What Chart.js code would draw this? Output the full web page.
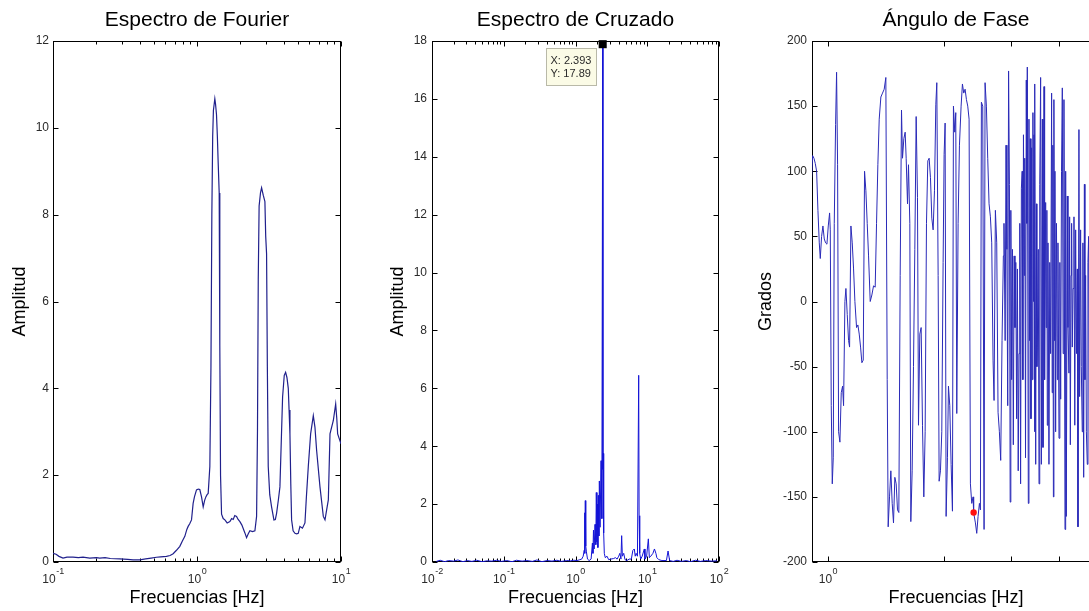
<!DOCTYPE html>
<html>
<head>
<meta charset="utf-8">
<script src="https://cdn.jsdelivr.net/npm/chart.js@4.4.1/dist/chart.umd.min.js"></script>
<style>
  html, body { margin: 0; padding: 0; background: #fff; overflow: hidden; width: 1089px; height: 611px; }
  canvas { position: absolute; top: 0; }
  #fourier { left: 0; }
  #cross { left: 363px; }
  #phase { left: 726px; }
</style>
</head>
<body>
<canvas id="fourier" width="363" height="611"></canvas>
<canvas id="cross" width="380" height="611"></canvas>
<canvas id="phase" width="420" height="611"></canvas>
<script>
const FONT = "'Liberation Sans', Arial, Helvetica, sans-serif";

// Espectro de Fourier: frecuencia [Hz] y amplitud
const fourierFreq = [0.1,0.105,0.11,0.1174,0.125,0.1377,0.15,0.1616,0.18,0.2,
  0.2111,0.23,0.25,0.2907,0.33,0.36,0.4005,0.44,0.48,0.5231,
  0.56,0.6135,0.65,0.683,0.72,0.76,0.79,0.8231,0.85,0.868,
  0.89,0.916,0.94,0.96,0.992,1.02,1.046,1.075,1.104,1.13,
  1.152,1.175,1.196,1.228,1.25,1.268,1.285,1.30,1.33,1.345,
  1.366,1.385,1.403,1.426,1.44,1.457,1.481,1.52,1.562,1.62,
  1.692,1.74,1.784,1.83,1.882,1.93,1.986,2.05,2.151,2.209,
  2.27,2.33,2.43,2.524,2.593,2.63,2.663,2.7,2.76,2.809,
  2.884,2.962,3.0,3.042,3.08,3.124,3.2,3.295,3.421,3.5,
  3.57,3.68,3.766,3.85,3.93,4.036,4.124,4.213,4.304,4.36,
  4.42,4.48,4.539,4.65,4.788,4.92,5.05,5.186,5.4,5.619,
  5.75,5.928,6.153,6.422,6.595,6.773,7.145,7.537,7.742,7.95,
  8.166,8.387,8.846,9.183,9.35,9.48,10.0];
const fourierAmp = [0.2,0.18,0.13,0.09,0.11,0.11,0.1,0.11,0.09,0.1,
  0.09,0.1,0.08,0.07,0.06,0.05,0.05,0.07,0.09,0.11,
  0.12,0.13,0.15,0.19,0.27,0.36,0.48,0.59,0.75,0.82,
  0.88,0.97,1.35,1.5,1.66,1.68,1.67,1.5,1.27,1.42,
  1.5,1.55,1.58,2.2,4.5,8.0,9.8,10.4,10.67,10.55,
  10.3,9.8,9.2,8.5,5.0,2.0,1.1,1.0,0.97,0.9,
  0.93,1.0,0.98,1.07,1.05,0.98,0.93,0.85,0.67,0.56,
  0.65,0.72,0.7,0.72,1.05,3.0,6.5,8.2,8.5,8.62,
  8.45,8.3,7.5,7.1,4.5,2.2,1.55,1.27,0.97,0.98,
  1.12,1.45,1.73,2.8,3.8,4.3,4.37,4.25,4.0,3.5,
  2.95,1.8,0.97,0.72,0.66,0.65,0.66,0.82,0.78,0.9,
  1.5,2.2,2.95,3.37,3.1,2.57,1.73,1.05,0.97,1.2,
  1.43,2.95,3.26,3.64,3.3,2.95,2.72];

// Espectro cruzado: frecuencia [Hz] y amplitud
const crossFreq = [0.0115,0.013,0.015,0.017,0.02,0.023,0.027,0.031,0.036,0.042,
  0.05,0.058,0.068,0.08,0.093,0.11,0.13,0.15,0.18,0.21,
  0.25,0.29,0.34,0.4,0.47,0.55,0.64,0.75,0.85,0.95,
  1.05,1.15,1.22,1.28,1.32,1.34,1.355,1.37,1.39,1.42,
  1.47,1.55,1.65,1.72,1.75,1.78,1.82,1.87,1.92,1.95,
  1.99,2.02,2.05,2.08,2.12,2.15,2.2,2.27,2.33,2.393,
  2.41,2.43,2.47,2.52,2.6,2.75,2.9,3.1,3.4,3.6,
  3.8,4.0,4.15,4.3,4.4,4.5,4.7,4.9,5.2,5.6,
  6.0,6.3,6.6,6.8,7.0,7.3,7.6,7.7,7.85,8.1,
  8.5,9.1,9.3,9.8,10.36,10.7,11.2,12.0,12.6,13.2,
  13.6,14.5,16,18.5,19.5,19.7,20.0,20.5,23,26,
  30,35,40,47,55,65,78,94];
const crossAmp = [0.02,0.06,0.01,0.05,0.03,0.07,0.01,0.05,0.02,0.06,
  0.01,0.04,0.03,0.06,0.02,0.05,0.01,0.06,0.03,0.05,
  0.02,0.07,0.01,0.05,0.03,0.06,0.02,0.05,0.04,0.06,
  0.05,0.08,0.1,0.2,0.4,1.7,0.3,2.12,0.55,0.35,
  0.1,0.05,0.1,0.65,0.3,1.1,0.45,1.3,0.6,2.4,
  0.7,2.0,0.5,2.3,0.9,2.8,1.2,3.5,1.5,17.89,
  3.2,3.75,1.0,0.3,0.15,0.2,0.08,0.1,0.12,0.15,
  0.1,0.2,0.3,0.1,0.91,0.2,0.3,0.08,0.05,0.1,
  0.1,0.4,0.45,0.2,0.3,0.2,6.45,1.6,0.3,0.1,
  0.2,0.45,0.1,0.2,0.8,0.15,0.2,0.3,0.45,0.3,
  0.15,0.08,0.05,0.05,0.38,0.38,0.38,0.05,0.02,0.06,
  0.02,0.05,0.01,0.06,0.02,0.05,0.03,0.04];
// Punto marcado en el espectro cruzado
const crossTipX = 2.393;
const crossTipY = 17.89;

// Ángulo de fase: frecuencia [Hz] y grados
const phaseFreq = [0.9069,0.9124,0.9197,0.9270,0.9345,0.9419,0.9495,0.9552,0.9628,0.9705,
  0.9783,0.9861,0.9940,1.0020,1.0100,1.0141,1.0201,1.0263,1.0324,1.0386,
  1.0469,1.0532,1.0595,1.0659,1.0744,1.0830,1.0917,1.0982,1.1070,1.1137,
  1.1226,1.1316,1.1384,1.1475,1.1567,1.1659,1.1752,1.1870,1.1965,1.2061,
  1.2158,1.2255,1.2353,1.2452,1.2552,1.2652,1.2754,1.2881,1.3010,1.3141,
  1.3272,1.3379,1.3486,1.3594,1.3730,1.3867,1.4006,1.4146,1.4260,1.4345,
  1.4460,1.4576,1.4693,1.4810,1.4929,1.5048,1.5169,1.5290,1.5413,1.5536,
  1.5629,1.5754,1.5880,1.5976,1.6104,1.6200,1.6330,1.6428,1.6560,1.6692,
  1.6826,1.6961,1.7097,1.7199,1.7337,1.7476,1.7616,1.7757,1.7899,1.8042,
  1.8187,1.8333,1.8479,1.8627,1.8776,1.8927,1.9078,1.9193,1.9346,1.9462,
  1.9618,1.9775,1.9933,2.0053,2.0173,2.0294,2.0457,2.0580,2.0744,2.0910,
  2.1078,2.1204,2.1374,2.1502,2.1631,2.1804,2.1979,2.2199,2.2377,2.2556,
  2.2737,2.2919,2.3102,2.3287,2.3473,2.3661,2.3850,2.393,2.4186,2.4379,
  2.4574,2.4771,2.4920,2.5069,2.5270,2.5472,2.5625,2.5830,2.6037,2.6245,
  2.6455,2.6667,2.6881,2.7042,2.7259,2.7477,2.7697,2.7919,2.8142,2.8367,
  2.8594,
  2.87,2.89,2.905,2.92,2.935,2.95,2.965,2.978,2.99,3.005,
  3.02,3.035,3.05,3.065,3.08,3.095,3.11,3.125,3.14,3.155,
  3.17,3.185,3.20,3.213,3.225,3.24,3.25,3.265,3.28,3.29,
  3.30,3.32,3.333,3.345,3.36,3.373,3.386,3.40,3.413,3.425,
  3.435,3.445,3.455,3.47,3.484,3.495,3.504,3.524,3.54,3.555,
  3.574,3.59,3.611,3.625,3.647,3.66,3.683,3.695,3.71,3.72,
  3.735,3.757,3.775,3.794,3.817,3.83,3.845,3.858,3.87,3.883,
  3.894,3.91,3.93,3.95,3.965,3.99,4.01,4.03,4.05,4.07,
  4.09,4.11,4.136,4.152,4.168,4.193,4.21,4.235,4.252,4.27,
  4.287,4.303,4.32,4.34,4.364,4.385,4.408,4.43,4.452,4.47,
  4.496,4.514,4.541,4.56,4.586,4.604,4.625,4.645,4.66,4.679,
  4.70,4.726,4.745,4.764,4.79,4.83,4.88,4.95,5.05,5.15];
const phaseDeg = [95,112,110,106,100,70,45,33,50,58,
  48,45,44,58,68,55,-80,-140,-120,60,
  136,176,105,-100,-108,-70,-65,-80,0,10,
  -10,-30,-35,58,45,25,0,-20,-18,-25,
  -35,-47,-45,100,85,60,35,0,5,12,
  11,60,105,140,157,160,163,172,-60,-173,
  -150,-130,-155,-170,-135,-140,-160,-162,20,147,
  110,125,130,110,75,105,60,-169,-130,-50,
  40,142,80,-95,-25,-20,-95,-150,-100,60,
  108,110,95,64,55,85,151,168,20,-138,
  -130,-100,30,113,137,-165,-120,-65,-80,-125,
  -161,150,130,145,-86,60,120,150,167,160,
  163,155,150,140,-140,-155,-150,-162,-170,-178,
  -165,-155,-160,153,150,-175,168,150,110,75,
  65,45,-45,-76,70,45,-85,-100,-122,-30,
  35,
  60,-30,120,40,-80,177,90,-154,70,-60,
  40,-110,35,-20,30,-90,25,-130,-40,60,
  -140,87,100,-60,128,20,110,-120,170,60,
  180,-155,140,-30,125,-90,118,-60,145,0,
  128,-100,167,-125,75,-50,-35,40,-140,90,
  172,-125,140,-112,165,-60,76,-20,70,-95,
  45,-125,30,-40,160,-70,120,-150,155,-30,
  100,-100,60,-60,45,-105,30,-75,100,164,
  -40,155,-175,100,-165,81,-20,-55,65,-110,
  20,60,-35,10,65,-95,55,-40,25,-173,
  132,-73,55,-50,-100,45,-135,90,-60,20,
  -100,-125,30,50,-140,100,-30,60,-80,40];
// Fase en la frecuencia marcada
const phaseMarkFreq = 2.393;
const phaseMarkDeg = -162;

// Marcas del eje x (décadas con su exponente; null = marca sin etiqueta)
const fourierXTicks = [0.1, 1, 10];
const fourierXExp = ['-1', '0', '1'];
const crossXTicks = [0.01, 0.1, 1, 10, 100];
const crossXExp = ['-2', '-1', '0', '1', '2'];
const phaseXTicks = [1, 2, 3, 4, 5];
const phaseXExp = ['0', null, null, null, null];

function pairs(xs, ys) { return xs.map((x, i) => ({ x: x, y: ys[i] })); }

function logMinorTicks(lo, hi) {
  const out = [];
  for (let d = lo; d < hi; d *= 10) {
    for (let k = 2; k <= 9; k++) out.push(+(d * k).toPrecision(6));
  }
  return out;
}

// Caja de ejes estilo MATLAB: marco negro, marcas hacia dentro y etiquetas 10^n
const matlabAxes = {
  id: 'matlabAxes',
  beforeDatasetsDraw(chart, args, o) {
    const { ctx, chartArea: a, scales: { x, y } } = chart;
    const L = Math.round(a.left) + 0.5, R = Math.round(a.right) - 0.5;
    const T = Math.round(a.top) + 0.5, B = Math.round(a.bottom) - 0.5;
    ctx.save();
    ctx.strokeStyle = '#000';
    ctx.lineWidth = 1;
    ctx.beginPath();
    const inX = px => px >= L - 1 && px <= R + 1;
    (o.xMinor || []).forEach(v => {
      const px = Math.round(x.getPixelForValue(v)) + 0.5;
      if (!inX(px)) return;
      ctx.moveTo(px, B); ctx.lineTo(px, B - 3);
      ctx.moveTo(px, T); ctx.lineTo(px, T + 3);
    });
    o.xMajor.forEach(v => {
      const px = Math.round(x.getPixelForValue(v)) + 0.5;
      if (!inX(px)) return;
      ctx.moveTo(px, B); ctx.lineTo(px, B - 5);
      ctx.moveTo(px, T); ctx.lineTo(px, T + 5);
    });
    y.ticks.forEach(t => {
      const py = Math.round(y.getPixelForValue(t.value)) + 0.5;
      ctx.moveTo(L, py); ctx.lineTo(L + 5, py);
      ctx.moveTo(R, py); ctx.lineTo(R - 5, py);
    });
    ctx.stroke();
    ctx.strokeRect(L, T, R - L, B - T);

    // etiquetas del eje logarítmico
    ctx.fillStyle = '#2a2a2a';
    ctx.textBaseline = 'alphabetic';
    ctx.textAlign = 'left';
    const baseFont = '12px ' + FONT, expFont = '9px ' + FONT;
    o.xMajor.forEach((v, i) => {
      const e = o.xExp[i];
      if (e === null) return;
      const px = x.getPixelForValue(v);
      ctx.font = baseFont;
      const wb = ctx.measureText('10').width;
      ctx.font = expFont;
      const we = ctx.measureText(e).width;
      const x0 = px - (wb + we) / 2;
      ctx.font = baseFont;
      ctx.fillText('10', x0, a.bottom + 21);
      ctx.font = expFont;
      ctx.fillText(e, x0 + wb + 0.5, a.bottom + 12);
    });
    ctx.restore();
  }
};

// Cuadro de dato (X / Y) junto al punto marcado
const dataTip = {
  id: 'dataTip',
  afterDatasetsDraw(chart) {
    const meta = chart.getDatasetMeta(0);
    const pt = meta.data[0];
    if (!pt) return;
    const { ctx } = chart;
    const bx = Math.round(pt.x) - 56.5, by = Math.round(pt.y) + 4.5, bw = 50, bh = 37;
    ctx.save();
    ctx.fillStyle = '#fbfbe6';
    ctx.strokeStyle = '#b9b9a8';
    ctx.lineWidth = 1;
    ctx.fillRect(bx, by, bw, bh);
    ctx.strokeRect(bx, by, bw, bh);
    ctx.fillStyle = '#2a2a2a';
    ctx.font = '11px ' + FONT;
    ctx.textBaseline = 'middle';
    ctx.textAlign = 'left';
    ctx.fillText('X: ' + crossTipX, bx + 4, by + 12);
    ctx.fillText('Y: ' + crossTipY, bx + 4, by + 25);
    ctx.restore();
  }
};

function makeOptions(cfg) {
  return {
    responsive: false,
    animation: false,
    events: [],
    layout: { padding: { left: 0, right: cfg.padRight, top: 0, bottom: 0 } },
    plugins: {
      legend: { display: false },
      tooltip: { enabled: false },
      title: {
        display: true, text: cfg.title, fullSize: false, color: '#000',
        font: { family: FONT, size: 21, weight: 'normal', lineHeight: 1.2 },
        padding: { top: 7.5, bottom: 8.3 }
      },
      matlabAxes: { xMajor: cfg.xTicks, xMinor: cfg.xMinor, xExp: cfg.xExp }
    },
    scales: {
      x: {
        type: 'logarithmic', min: cfg.xMin, max: cfg.xMax,
        afterBuildTicks: s => { s.ticks = cfg.xTicks.map(v => ({ value: v })); },
        afterFit: s => { s.height = 49; s.paddingLeft = 0; s.paddingRight = 0; },
        grid: { display: false, drawTicks: false },
        border: { display: false },
        ticks: { display: false },
        title: {
          display: true, text: 'Frecuencias [Hz]', color: '#000',
          font: { family: FONT, size: 18, weight: 'normal', lineHeight: 1.2 },
          padding: { top: 0, bottom: 2.2 }
        }
      },
      y: {
        type: 'linear', min: cfg.yMin, max: cfg.yMax,
        afterFit: s => { s.width = cfg.yWidth; s.paddingTop = 0; s.paddingBottom = 0; },
        grid: { display: false, drawTicks: false },
        border: { display: false },
        ticks: {
          stepSize: cfg.yStep, padding: cfg.yPad, color: '#2a2a2a',
          font: { family: FONT, size: 12 }
        },
        title: {
          display: true, text: cfg.yTitle, color: '#000',
          font: { family: FONT, size: 18, weight: 'normal', lineHeight: 1.2 },
          padding: { top: cfg.yTitlePad, bottom: 0 }
        }
      }
    }
  };
}

new Chart(document.getElementById('fourier'), {
  type: 'line',
  data: {
    datasets: [{
      data: pairs(fourierFreq, fourierAmp),
      borderColor: '#20208c', borderWidth: 1.2, pointRadius: 0, tension: 0, fill: false
    }]
  },
  options: makeOptions({
    title: 'Espectro de Fourier', padRight: 22, yWidth: 53, yPad: 4, yTitlePad: 9.2,
    xMin: 0.1, xMax: 10, xTicks: fourierXTicks, xExp: fourierXExp, xMinor: logMinorTicks(0.1, 10),
    yMin: 0, yMax: 12, yStep: 2, yTitle: 'Amplitud'
  }),
  plugins: [matlabAxes]
});

new Chart(document.getElementById('cross'), {
  type: 'line',
  data: {
    datasets: [
      {
        data: [{ x: crossTipX, y: crossTipY }],
        showLine: false, pointStyle: 'rect', pointRadius: 5.7,
        pointBackgroundColor: '#000', pointBorderColor: '#000', pointBorderWidth: 0,
        clip: false, order: 0
      },
      {
        data: pairs(crossFreq, crossAmp),
        borderColor: '#1414d6', borderWidth: 1, pointRadius: 0, tension: 0, fill: false, order: 1
      }
    ]
  },
  options: makeOptions({
    title: 'Espectro de Cruzado', padRight: 24, yWidth: 69, yPad: 5, yTitlePad: 24.2,
    xMin: 0.01, xMax: 100, xTicks: crossXTicks, xExp: crossXExp, xMinor: logMinorTicks(0.01, 100),
    yMin: 0, yMax: 18, yStep: 2, yTitle: 'Amplitud'
  }),
  plugins: [matlabAxes, dataTip]
});

new Chart(document.getElementById('phase'), {
  type: 'line',
  data: {
    datasets: [
      {
        data: [{ x: phaseMarkFreq, y: phaseMarkDeg }],
        showLine: false, pointStyle: 'circle', pointRadius: 3.2,
        pointBackgroundColor: '#ff1010', pointBorderColor: '#ff1010', pointBorderWidth: 0,
        order: 0
      },
      {
        data: pairs(phaseFreq, phaseDeg),
        borderColor: '#2a2ab8', borderWidth: 1, pointRadius: 0, tension: 0, fill: false, order: 1
      }
    ]
  },
  options: makeOptions({
    title: 'Ángulo de Fase', padRight: 46, yWidth: 86, yPad: 5, yTitlePad: 29.2,
    xMin: 0.909, xMax: 5.1, xTicks: phaseXTicks, xExp: phaseXExp, xMinor: [],
    yMin: -200, yMax: 200, yStep: 50, yTitle: 'Grados'
  }),
  plugins: [matlabAxes]
});
</script>
</body>
</html>
